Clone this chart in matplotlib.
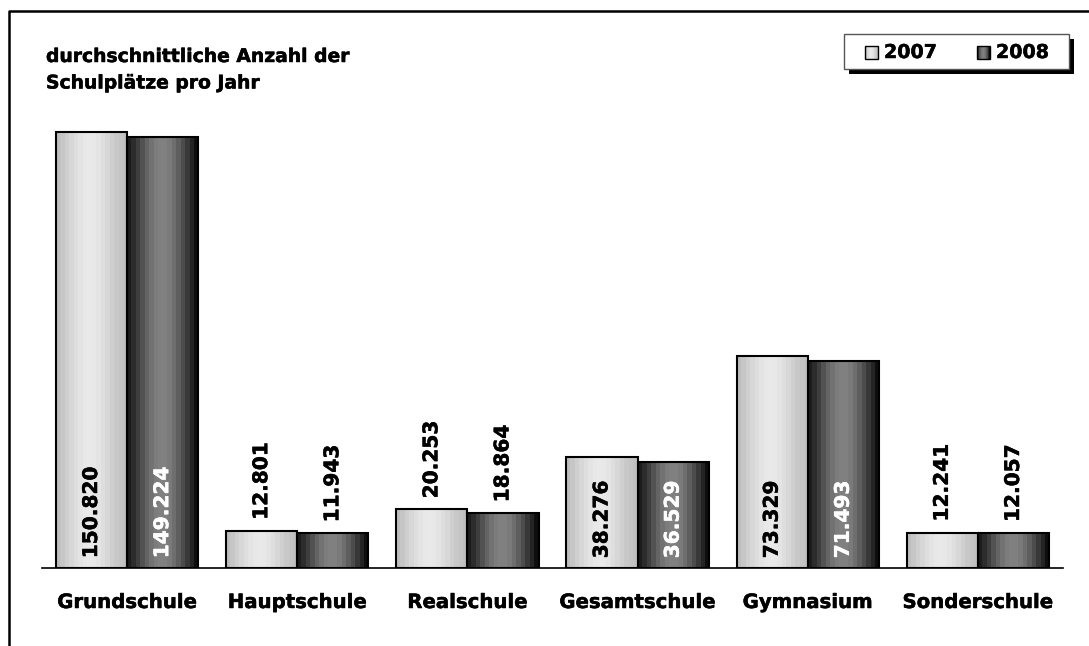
import numpy as np
import matplotlib
matplotlib.use('Agg')
import matplotlib.pyplot as plt
import matplotlib.patheffects as pe
from matplotlib.patches import Rectangle

plt.rcParams['font.family'] = ['DejaVu Sans']
plt.rcParams['font.weight'] = 'bold'

# Schulplätze je Schulform
schulformen = ['Grundschule', 'Hauptschule', 'Realschule', 'Gesamtschule', 'Gymnasium', 'Sonderschule']
jahre = ['2007', '2008']
werte_2007 = [150820, 12801, 20253, 38276, 73329, 12241]
werte_2008 = [149224, 11943, 18864, 36529, 71493, 12057]
titel = 'durchschnittliche Anzahl der\nSchulplätze pro Jahr'

# Grauverläufe der Säulen (links -> rechts)
verlauf_hell = [0xbe, 0xc6, 0xcf, 0xd7, 0xde, 0xe4, 0xe8, 0xe9, 0xe8, 0xe4, 0xde, 0xd7, 0xcf, 0xc8, 0xc4, 0xc0]
verlauf_dunkel = [0x1c, 0x2c, 0x3e, 0x52, 0x64, 0x72, 0x7c, 0x80, 0x80, 0x7a, 0x6e, 0x5e, 0x4c, 0x38, 0x24, 0x0e]


def grad_img(profile):
    g = np.array(profile, dtype=float) / 255.0
    return np.repeat(g[None, :, None], 3, axis=2)


def fett(col):
    # etwas kräftigere Schrift
    return [pe.withStroke(linewidth=0.35, foreground=col)]


W, H = 1089, 646
fig = plt.figure(figsize=(W / 100, H / 100), dpi=100)

# Achse: Grundlinie bei y=568 px, Breite 42..1063 px
ax = fig.add_axes([42 / W, 78 / H, 1021 / W, 468 / H])
x = np.arange(len(schulformen))
bw = 0.418

for werte, verlauf, off, txtcol in [(werte_2007, verlauf_hell, -bw, 'black'),
                                   (werte_2008, verlauf_dunkel, 0, 'white')]:
    bars = ax.bar(x + off, werte, width=bw, align='edge', facecolor='none',
                  edgecolor='black', linewidth=1.5, zorder=3)
    img = grad_img(verlauf)
    for b, v in zip(bars, werte):
        x0 = b.get_x()
        ax.imshow(img, extent=[x0, x0 + bw, 0, v], aspect='auto',
                  interpolation='nearest', zorder=2)
        if v > 30000:
            ax.annotate(f'{v / 1000:.3f}', (x0 + bw / 2, 0), xytext=(0, 7),
                        textcoords='offset points', rotation=90, ha='center',
                        va='bottom', fontsize=14.5, color=txtcol, zorder=5,
                        path_effects=fett(txtcol))
        else:
            ax.annotate(f'{v / 1000:.3f}', (x0 + bw / 2, v), xytext=(0, 8),
                        textcoords='offset points', rotation=90, ha='center',
                        va='bottom', fontsize=14.5, color='black', zorder=5,
                        path_effects=fett('black'))

ax.set_xlim(-0.5, len(schulformen) - 0.5)
ax.set_ylim(0, 161900)
ax.set_xticks(x)
ax.set_xticklabels(schulformen, fontsize=14.2, fontweight='bold')
for t in ax.get_xticklabels():
    t.set_path_effects(fett('black'))
ax.tick_params(axis='x', length=0, pad=18)
ax.set_yticks([])
for s in ['top', 'left', 'right']:
    ax.spines[s].set_visible(False)
ax.spines['bottom'].set_linewidth(1.2)
ax.patch.set_alpha(0)

# Rahmen, Titel und Legende in Pixelkoordinaten
ov = fig.add_axes([0, 0, 1, 1], zorder=10)
ov.set_xlim(0, W)
ov.set_ylim(H, 0)
ov.axis('off')
ov.patch.set_alpha(0)
ov.plot([8.5, 8.5, W + 5], [H + 5, 10.5, 10.5], color='black', lw=1.8,
        solid_capstyle='butt', clip_on=False)

ov.text(46, 47, titel, fontsize=13.5, fontweight='bold', va='top', ha='left',
        linespacing=1.5, path_effects=fett('black'))

# Legende mit Schatten
ov.add_patch(Rectangle((849, 39), 225, 35, facecolor='black', edgecolor='none'))
ov.add_patch(Rectangle((844, 34), 225, 35, facecolor='white', edgecolor='#555555', lw=1))
for sx, verlauf, jahr in [(865, verlauf_hell, jahre[0]), (977, verlauf_dunkel, jahre[1])]:
    ov.imshow(grad_img(verlauf), extent=[sx, sx + 13, 59, 46], aspect='auto',
              interpolation='nearest', zorder=11)
    ov.add_patch(Rectangle((sx, 46), 13, 13, facecolor='none', edgecolor='black',
                           lw=1, zorder=12))
    ov.text(sx + 19, 52.5, jahr, fontsize=13.7, fontweight='bold', va='center',
            ha='left', zorder=12, path_effects=fett('black'))
ov.set_xlim(0, W)
ov.set_ylim(H, 0)

fig.savefig('out.png', dpi=100)
